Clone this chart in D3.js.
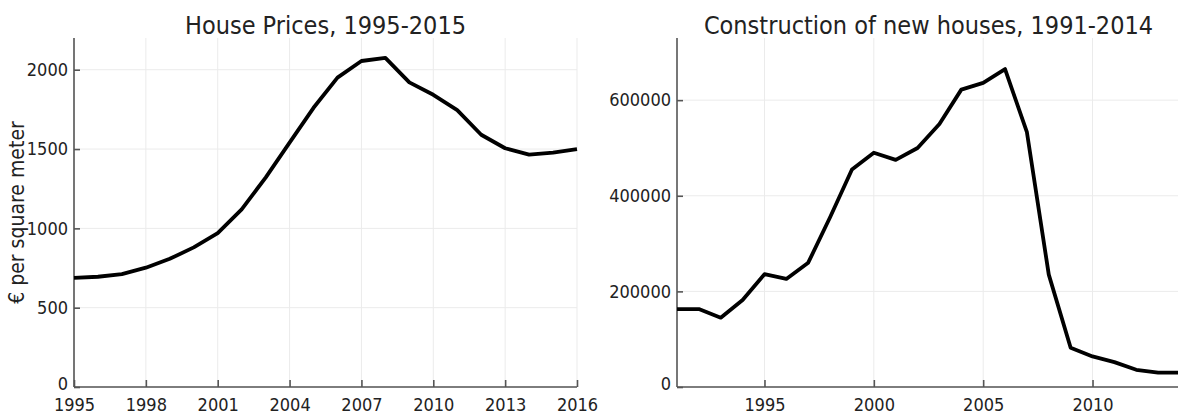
<!DOCTYPE html>
<html>

<head>
    <meta charset="UTF-8">
    <title>housing</title>
    <style>
        body { margin: 0; background: #fff; }
        text { font-family: "DejaVu Sans Condensed", "DejaVu Sans", sans-serif; fill: #222; }
    </style>
</head>

<body>
    <script src="https://cdn.jsdelivr.net/npm/d3@7"></script>

    <svg id="svg" width="1178" height="417"></svg>

    <script>
        // house prices, euro per square meter
        const priceYears = [1995, 1996, 1997, 1998, 1999, 2000, 2001, 2002, 2003, 2004, 2005,
            2006, 2007, 2008, 2009, 2010, 2011, 2012, 2013, 2014, 2015, 2016];
        const priceValues = [688, 695, 712, 752, 808, 880, 970, 1120, 1320, 1540, 1760,
            1950, 2055, 2075, 1920, 1842, 1745, 1590, 1505, 1465, 1478, 1500];
        const priceXTicks = [1995, 1998, 2001, 2004, 2007, 2010, 2013, 2016];
        const priceYTicks = [0, 500, 1000, 1500, 2000];

        // new houses built per year
        const buildYears = [1991, 1992, 1993, 1994, 1995, 1996, 1997, 1998, 1999, 2000, 2001, 2002,
            2003, 2004, 2005, 2006, 2007, 2008, 2009, 2010, 2011, 2012, 2013, 2014];
        const buildValues = [163000, 163000, 145000, 182000, 236000, 226000, 260000, 355000, 455000, 490000, 475000, 500000,
            550000, 622000, 636000, 665000, 533000, 235000, 82000, 64000, 52000, 36000, 30000, 30000];
        const buildXTicks = [1995, 2000, 2005, 2010];
        const buildYTicks = [0, 200000, 400000, 600000];

        const svg = d3.select("#svg");

        const drawPanel = function (p) {
            const x = d3.scaleLinear().domain(p.xDomain).range([p.left, p.right]);
            const y = d3.scaleLinear().domain(p.yDomain).range([p.bottom, p.top]);
            const g = svg.append("g");

            // grid
            g.append("g").selectAll("line").data(p.xTicks).enter().append("line")
                .attr("x1", d => x(d)).attr("x2", d => x(d))
                .attr("y1", p.top).attr("y2", p.bottom)
                .attr("stroke", "#ebebeb").attr("stroke-width", 1);
            g.append("g").selectAll("line").data(p.yTicks).enter().append("line")
                .attr("x1", p.left).attr("x2", p.right)
                .attr("y1", d => y(d)).attr("y2", d => y(d))
                .attr("stroke", "#ebebeb").attr("stroke-width", 1);

            // axes, ticks pointing inward
            const xAxis = g.append("g").attr("transform", `translate(0,${p.bottom})`)
                .call(d3.axisBottom(x).tickValues(p.xTicks).tickFormat(d3.format("d")).tickSize(-7).tickPadding(11));
            const yAxis = g.append("g").attr("transform", `translate(${p.left},0)`)
                .call(d3.axisLeft(y).tickValues(p.yTicks).tickFormat(d3.format("d")).tickSize(-6).tickPadding(6));
            [xAxis, yAxis].forEach(a => {
                a.select(".domain").remove();
                a.selectAll(".tick line").attr("stroke", "#555").attr("stroke-width", 1.6);
                a.selectAll(".tick text").attr("font-size", 18).attr("fill", "#1a1a1a")
                    .attr("font-family", "'DejaVu Sans Condensed', 'DejaVu Sans', sans-serif");
            });
            yAxis.selectAll(".tick text").filter(d => d === 0).attr("dy", "0.15em");
            g.append("line").attr("x1", p.left).attr("x2", p.right).attr("y1", p.bottom).attr("y2", p.bottom)
                .attr("stroke", "#555").attr("stroke-width", 1.6);
            g.append("line").attr("x1", p.left).attr("x2", p.left).attr("y1", p.top).attr("y2", p.bottom)
                .attr("stroke", "#555").attr("stroke-width", 1.6);

            const line = d3.line().x((d, i) => x(p.years[i])).y(d => y(d));
            g.append("path").datum(p.values)
                .attr("d", line)
                .attr("fill", "none")
                .attr("stroke", "#000")
                .attr("stroke-width", 3.8)
                .attr("stroke-linejoin", "round");

            g.append("text")
                .attr("x", (p.left + p.right) / 2).attr("y", 34)
                .attr("text-anchor", "middle")
                .attr("font-size", 25)
                .text(p.title);

            if (p.yLabel) {
                g.append("text")
                    .attr("transform", `translate(24,${(p.top + p.bottom) / 2}) rotate(-90)`)
                    .attr("text-anchor", "middle")
                    .attr("font-size", 21)
                    .text(p.yLabel);
            }
        }

        drawPanel({
            years: priceYears, values: priceValues,
            xTicks: priceXTicks, yTicks: priceYTicks,
            xDomain: [1995, 2016], yDomain: [0, 2200],
            left: 74, right: 577, top: 38, bottom: 387,
            title: "House Prices, 1995-2015",
            yLabel: "€ per square meter"
        });

        drawPanel({
            years: buildYears, values: buildValues,
            xTicks: buildXTicks, yTicks: buildYTicks,
            xDomain: [1991, 2014], yDomain: [0, 730000],
            left: 677, right: 1180, top: 38, bottom: 387,
            title: "Construction of new houses, 1991-2014"
        });
    </script>

</body>

</html>
